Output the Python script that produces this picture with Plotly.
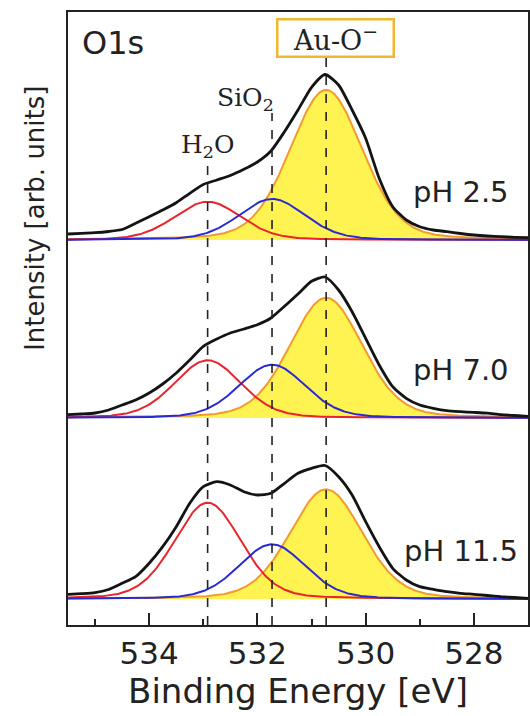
import numpy as np
import plotly.graph_objects as go

# ---------------- data ----------------
energy = [535.5, 535.25, 535.0, 534.75, 534.5, 534.25, 534.0, 533.75, 533.5,
          533.25, 533.0, 532.75, 532.5, 532.25, 532.0, 531.75, 531.5, 531.25,
          531.0, 530.75, 530.5, 530.25, 530.0, 529.75, 529.5, 529.25, 529.0,
          528.75, 528.5, 528.25, 528.0, 527.75, 527.5, 527.25, 527.0]

# measured spectra (arb. units)
ph25_data = [6.0, 6.7, 7.3, 8.5, 10.5, 16.7, 23.3, 30.0, 37.3, 46.7, 55.5, 60.0,
             64.5, 70.7, 78.0, 89.0, 108.3, 130.0, 152.7, 165.5, 155.0, 130.0,
             101.7, 61.7, 33.3, 20.0, 13.3, 10.0, 8.3, 6.5, 5.0, 4.0, 3.3, 2.7, 2.3]
ph70_data = [3.3, 4.0, 5.0, 8.0, 13.0, 18.0, 25.0, 34.0, 45.0, 58.0, 71.7, 79.0,
             85.0, 89.0, 93.3, 100.0, 111.7, 124.0, 136.7, 141.0, 128.0, 106.3,
             79.7, 53.0, 31.3, 19.7, 13.0, 9.7, 7.3, 6.3, 5.6, 4.8, 3.3, 2.5, 1.7]
ph115_data = [4.7, 5.3, 6.3, 9.5, 15.7, 22.3, 35.7, 52.3, 72.3, 95.7, 112.3, 117.3,
              114.0, 107.3, 104.0, 105.7, 115.7, 125.7, 130.7, 133.5, 122.3, 104.0,
              77.3, 52.3, 30.7, 19.0, 12.3, 9.7, 7.3, 5.7, 4.7, 3.5, 2.3, 1.5, 0.7]

ph_labels = ["pH 2.5", "pH 7.0", "pH 11.5"]

# fitted components: H2O, SiO2, Au-O-
comp_names = ["H<sub>2</sub>O", "SiO<sub>2</sub>", "Au-O<sup>−</sup>"]
comp_center = [532.92, 531.73, 530.73]
comp_fwhm = [1.45, 1.45, 1.58]
ph25_heights = [38.3, 41.0, 150.0]
ph70_heights = [57.7, 53.3, 120.3]
ph115_heights = [96.3, 54.7, 109.7]

tick_vals = [534, 532, 530, 528]
minor_vals = [535, 533, 531, 529]

# ---------------- layout constants ----------------
offsets = [385, 207, 26]
spectra = [ph25_data, ph70_data, ph115_data]
heights = [ph25_heights, ph70_heights, ph115_heights]
RED, BLUE, ORANGE, YELLOW = "#E8242C", "#2A2AD2", "#F29A2E", "#FFF352"
SANS = "DejaVu Sans"
SERIF = "DejaVu Serif"

E = np.linspace(535.5, 527.0, 400)


def pvoigt(x, c, h, w, eta=0.2):
    g = np.exp(-4 * np.log(2) * ((x - c) / w) ** 2)
    l = 1.0 / (1.0 + 4 * ((x - c) / w) ** 2)
    return h * ((1 - eta) * g + eta * l)


fig = go.Figure()
for off, data, hs in zip(offsets, spectra, heights):
    base = np.full_like(E, off, dtype=float)
    fig.add_trace(go.Scatter(x=E, y=base, mode="lines", line=dict(width=0),
                             hoverinfo="skip", showlegend=False))
    fig.add_trace(go.Scatter(x=E, y=off + pvoigt(E, comp_center[2], hs[2], comp_fwhm[2]),
                             mode="lines", fill="tonexty", fillcolor=YELLOW,
                             line=dict(color=ORANGE, width=2), showlegend=False))
    fig.add_trace(go.Scatter(x=E, y=off + pvoigt(E, comp_center[0], hs[0], comp_fwhm[0]),
                             mode="lines", line=dict(color=RED, width=2), showlegend=False))
    fig.add_trace(go.Scatter(x=E, y=off + pvoigt(E, comp_center[1], hs[1], comp_fwhm[1]),
                             mode="lines", line=dict(color=BLUE, width=2), showlegend=False))
    fig.add_trace(go.Scatter(x=energy, y=[off + v for v in data], mode="lines",
                             line=dict(color="#141414", width=2.8, shape="spline", smoothing=0.6),
                             showlegend=False))

# dashed guide lines
line_tops = [465, 512, 568]
for c, top in zip(comp_center, line_tops):
    fig.add_shape(type="line", x0=c, x1=c, y0=0, y1=top, xref="x", yref="y",
                  line=dict(color="#222", width=1.6, dash="dash"))

# component labels
fig.add_annotation(x=comp_center[0], y=479, text=comp_names[0], showarrow=False,
                   font=dict(family=SERIF, size=25, color="#222"), xanchor="center", yanchor="middle")
fig.add_annotation(x=comp_center[1], y=526, text=comp_names[1], showarrow=False,
                   font=dict(family=SERIF, size=25, color="#222"), xanchor="right", yanchor="middle",
                   xshift=4)
fig.add_annotation(x=comp_center[2], y=587, text=comp_names[2], showarrow=False,
                   font=dict(family=SERIF, size=27, color="#222"), xanchor="center", yanchor="middle",
                   bordercolor="#F2B730", borderwidth=2.5, borderpad=2, bgcolor="white",
                   width=110, height=31, xshift=9)

# panel labels
for off, lab in zip(offsets, ph_labels):
    fig.add_annotation(x=0.855, xref="paper", y=off + 48, yref="y", text=lab, showarrow=False,
                       font=dict(family=SANS, size=29, color="#222"), xanchor="center", yanchor="middle")

fig.add_annotation(x=0.026, xref="paper", y=0.949, yref="paper", text="O1s", showarrow=False,
                   font=dict(family=SANS, size=32, color="#222"), xanchor="left", yanchor="middle")

fig.add_annotation(x=-0.072, xref="paper", y=0.664, yref="paper", text="Intensity [arb. units]",
                   showarrow=False, textangle=-90,
                   font=dict(family=SANS, size=26, color="#222"), xanchor="center", yanchor="middle")

fig.update_layout(
    width=530, height=716,
    margin=dict(l=68, r=2, t=12, b=91, autoexpand=False),
    paper_bgcolor="white", plot_bgcolor="white",
    xaxis=dict(range=[535.5, 527.0], tickvals=tick_vals, ticks="inside", ticklen=12,
               tickwidth=2, tickcolor="#222", showline=True, linecolor="#222", linewidth=2,
               mirror=True, showgrid=False, zeroline=False, automargin=False,
               tickfont=dict(family=SANS, size=31, color="#222"),
               minor=dict(tickvals=minor_vals, ticks="inside", ticklen=6, tickwidth=2,
                          tickcolor="#222", showgrid=False),
               title=dict(text="Binding Energy [eV]", font=dict(family=SANS, size=34, color="#222"),
                          standoff=8)),
    yaxis=dict(range=[0, 613], showticklabels=False, ticks="", showgrid=False, zeroline=False,
               showline=True, linecolor="#222", linewidth=2, mirror=True, automargin=False),
)

fig.write_html("out.html", config={"displayModeBar": False},
               post_script="document.body.style.margin='0';document.body.style.overflow='hidden';")
